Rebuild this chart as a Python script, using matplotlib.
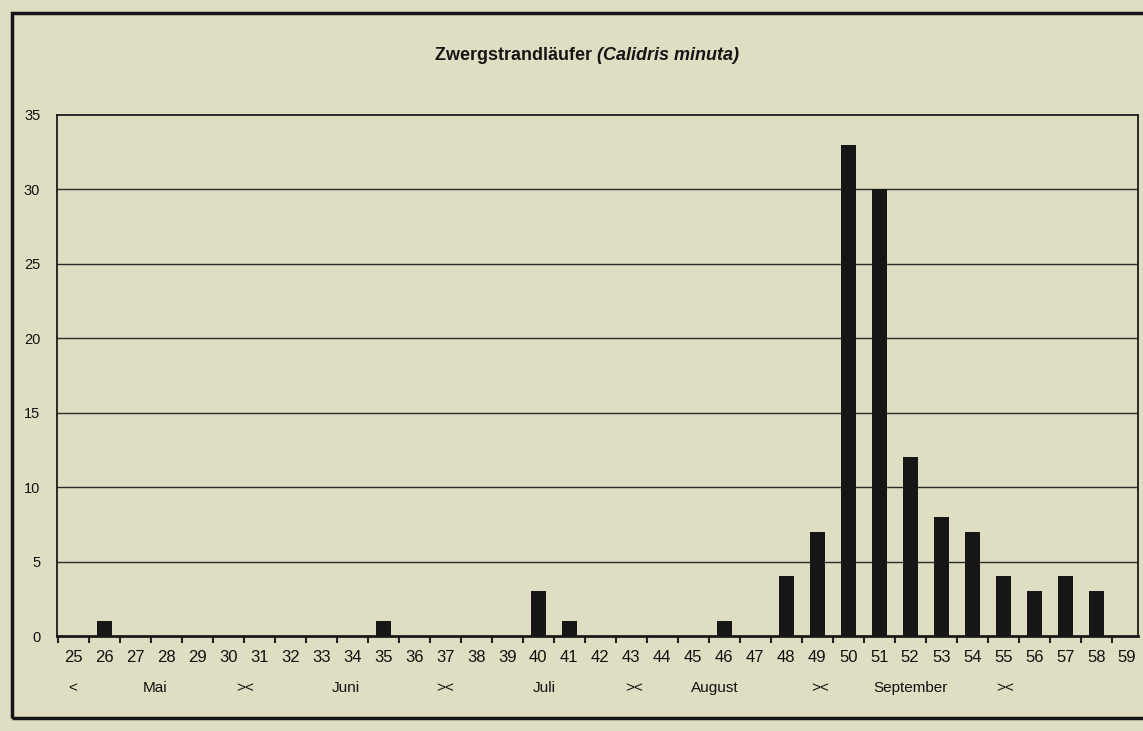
import matplotlib
matplotlib.use("Agg")
import matplotlib.pyplot as plt
from matplotlib.patches import Rectangle
from matplotlib import font_manager as fm

# --- data: weekly counts (Pentaden 25..59) --------------------------------
weeks = list(range(25, 60))
counts = [0, 1, 0, 0, 0, 0, 0, 0, 0, 0,
          1, 0, 0, 0, 0, 3, 1, 0, 0, 0,
          0, 1, 0, 4, 7, 33, 30, 12, 8, 7,
          4, 3, 4, 3, 0]
month_labels = ["<", "Mai", "><", "Juni", "><", "Juli", "><", "August", "><", "September", "><"]
month_pos = [0, 2.65, 5.55, 8.8, 12, 15.2, 18.1, 20.7, 24.1, 27.0, 30.05]
yticks = [0, 5, 10, 15, 20, 25, 30, 35]

names = {f.name for f in fm.fontManager.ttflist}
narrow = "Liberation Sans Narrow" if "Liberation Sans Narrow" in names else "Liberation Sans"
plt.rcParams["font.family"] = [narrow, "DejaVu Sans"]

paper = "#dfdec3"
W, H = 1143, 731
fig = plt.figure(figsize=(W / 100, H / 100), dpi=100, facecolor=paper)

# outer frame of the printed figure
fig.add_artist(Rectangle((12 / W, 13 / H), 1.2, (718 - 13) / H, transform=fig.transFigure,
                         fill=False, edgecolor="#151515", linewidth=2.5))

ax = fig.add_axes([57 / W, (H - 636) / H, (1138 - 57) / W, (636 - 115) / H])
ax.set_facecolor(paper)

x = list(range(len(weeks)))
ax.bar(x, counts, width=0.48, color="#161616", zorder=3)

ax.set_xlim(-0.52, 34.35)
ax.set_ylim(0, 35)
ax.set_yticks(yticks)
ax.set_yticklabels([str(v) for v in yticks], fontsize=10.5, color="#111111")
for v in yticks[1:-1]:
    ax.axhline(v, color="#2a2a2a", linewidth=1.0, zorder=1)

# category ticks sit at the boundaries, labels at the centers
ax.set_xticks([i - 0.5 for i in range(len(weeks))])
ax.set_xticklabels([])
ax.set_xticks(x, minor=True)
ax.set_xticklabels([str(w) for w in weeks], minor=True, fontsize=12, color="#111111")
ax.tick_params(axis="x", which="major", direction="out", length=5, width=1.5, color="#222222")
ax.tick_params(axis="x", which="minor", length=0, pad=10)
ax.tick_params(axis="y", direction="out", length=0, pad=12)

for s in ax.spines.values():
    s.set_color("#1a1a1a")
    s.set_linewidth(1.3)
ax.spines["bottom"].set_linewidth(2)

# month row under the week numbers
for lab, p in zip(month_labels, month_pos):
    ax.text(p, -3.5, lab, ha="center", va="center", fontsize=11, color="#111111",
            transform=ax.transData, clip_on=False)

# title: plain name + italic scientific name
fig.text(597 / W, (H - 55) / H, "Zwergstrandläufer ", ha="right", va="center",
         fontsize=13, fontweight="bold", color="#151515")
fig.text(597 / W, (H - 55) / H, "(Calidris minuta)", ha="left", va="center",
         fontsize=13, fontweight="bold", fontstyle="italic", color="#151515")

fig.savefig("out.png", dpi=100, facecolor=paper)
